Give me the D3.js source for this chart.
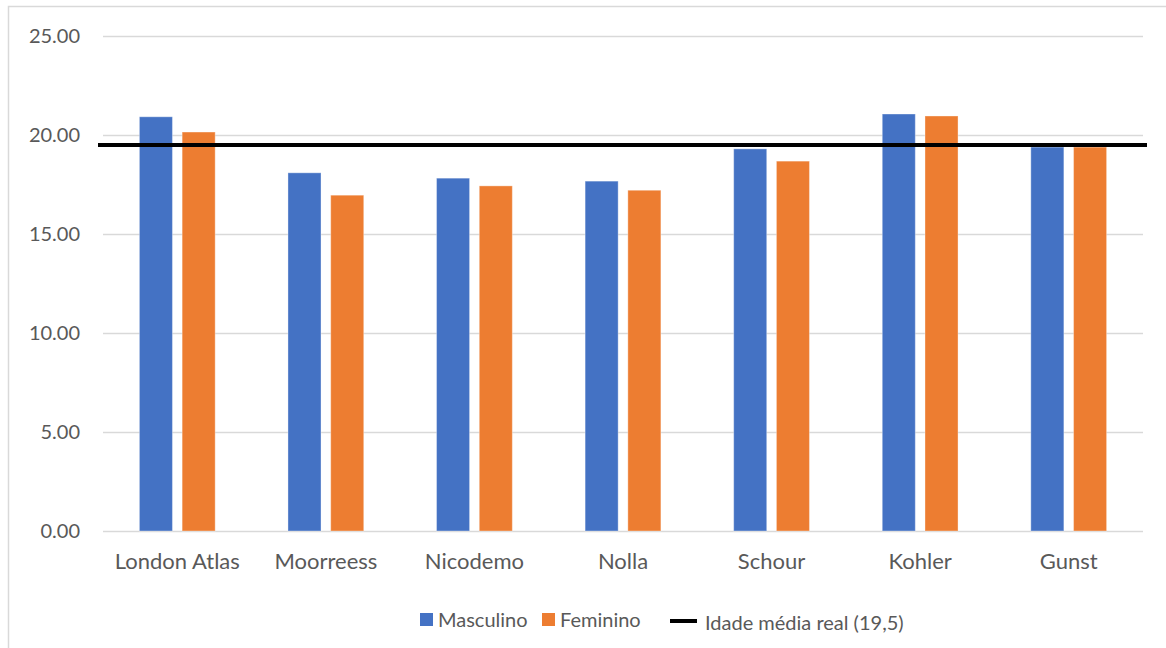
<!DOCTYPE html>
<html>
<head>
<meta charset="utf-8">
<script src="https://cdn.jsdelivr.net/npm/d3@7/dist/d3.min.js"></script>
<style>
  html, body { margin: 0; padding: 0; background: #fff; }
  svg { display: block; }
  svg text { font-family: Lato, "Open Sans", sans-serif; }
</style>
</head>
<body>
<svg id="chart" width="1166" height="648"></svg>
<script>
// Mean estimated age by method, per sex
const categories = ["London Atlas", "Moorreess", "Nicodemo", "Nolla", "Schour", "Kohler", "Gunst"];
const seriesNames = ["Masculino", "Feminino"];
const masculino = [20.92, 18.09, 17.82, 17.67, 19.30, 21.06, 19.39];
const feminino  = [20.15, 16.96, 17.43, 17.21, 18.68, 20.96, 19.39];
const realMeanAge = 19.5;
const realMeanLabel = "Idade média real (19,5)";
const yTicks = [0, 5, 10, 15, 20, 25];

const colors = { Masculino: "#4472C4", Feminino: "#ED7D31" };
const FONT = "Lato, 'Open Sans', sans-serif";

const svg = d3.select("#chart");
const W = 1166, H = 648;
const margin = { left: 103, right: 23, top: 36, bottom: 117 };
const plotW = W - margin.left - margin.right;
const plotH = H - margin.top - margin.bottom;

// Outer chart frame
svg.append("rect")
  .attr("x", 8.5).attr("y", 6.5)
  .attr("width", W).attr("height", H)
  .attr("fill", "none").attr("stroke", "#D9D9D9").attr("stroke-width", 1.5);

const g = svg.append("g").attr("transform", `translate(${margin.left},${margin.top})`);

const y = d3.scaleLinear().domain([0, 25]).range([plotH, 0]);
const x0 = d3.scaleBand().domain(categories).range([0, plotW]).paddingInner(0.49).paddingOuter(0.245);
const x1 = d3.scaleBand().domain(seriesNames).range([0, x0.bandwidth()]).paddingInner(0.227);

// Horizontal gridlines
g.append("g")
  .selectAll("line")
  .data(yTicks)
  .join("line")
  .attr("x1", 0).attr("x2", plotW)
  .attr("y1", d => y(d) + 0.5).attr("y2", d => y(d) + 0.5)
  .attr("stroke", "#D9D9D9").attr("stroke-width", 1.5);

// Y axis labels
const yAxis = d3.axisLeft(y).tickValues(yTicks).tickFormat(d3.format(".2f")).tickSize(0).tickPadding(23);
g.append("g").call(yAxis)
  .attr("font-family", FONT).attr("font-size", 20)
  .call(s => s.select(".domain").remove())
  .selectAll("text")
  .attr("fill", "#595959");

// X axis labels
const xAxis = d3.axisBottom(x0).tickSize(0).tickPadding(22);
g.append("g").attr("transform", `translate(0,${plotH})`).call(xAxis)
  .attr("font-family", FONT).attr("font-size", 22)
  .call(s => s.select(".domain").remove())
  .selectAll("text")
  .attr("fill", "#595959");

// Bars
const rows = categories.map((c, i) => ({ cat: c, Masculino: masculino[i], Feminino: feminino[i] }));
g.append("g")
  .selectAll("g")
  .data(rows)
  .join("g")
  .attr("transform", d => `translate(${x0(d.cat)},0)`)
  .selectAll("rect")
  .data(d => seriesNames.map(k => ({ key: k, value: d[k] })))
  .join("rect")
  .attr("x", d => x1(d.key))
  .attr("y", d => y(d.value))
  .attr("width", x1.bandwidth())
  .attr("height", d => y(0) - y(d.value))
  .attr("fill", d => colors[d.key])
  .attr("stroke", "#ffffff").attr("stroke-opacity", 0.35).attr("stroke-width", 1);

// Reference line: real mean age
g.append("line")
  .attr("x1", -5).attr("x2", plotW + 4)
  .attr("y1", y(realMeanAge)).attr("y2", y(realMeanAge))
  .attr("stroke", "#000").attr("stroke-width", 4);

// Legend
const legend = svg.append("g").attr("font-family", FONT).attr("font-size", 20);
const legendItems = [
  { label: "Masculino", x: 420, color: colors.Masculino },
  { label: "Feminino", x: 542, color: colors.Feminino }
];
legendItems.forEach(it => {
  legend.append("rect").attr("x", it.x).attr("y", 613).attr("width", 13).attr("height", 13).attr("fill", it.color);
  legend.append("text").attr("x", it.x + 18).attr("y", 627).attr("fill", "#595959").text(it.label);
});
legend.append("line").attr("x1", 670).attr("x2", 697).attr("y1", 621).attr("y2", 621)
  .attr("stroke", "#000").attr("stroke-width", 4);
legend.append("text").attr("x", 705).attr("y", 630).attr("fill", "#595959").text(realMeanLabel);
</script>
</body>
</html>
